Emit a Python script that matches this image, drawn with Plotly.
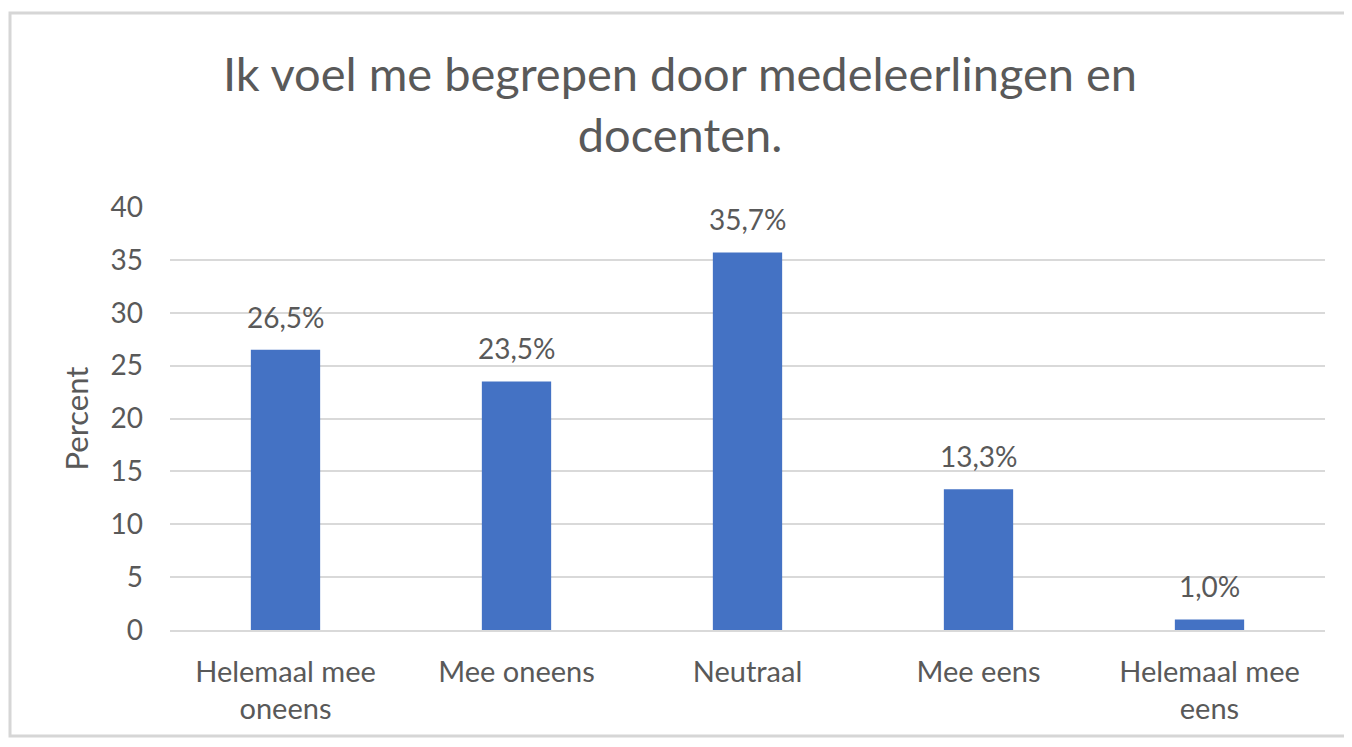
import plotly.graph_objects as go

categories = ["Helemaal mee<br>oneens", "Mee oneens", "Neutraal", "Mee eens", "Helemaal mee<br>eens"]
percent = [26.5, 23.5, 35.7, 13.3, 1.0]
y_ticks = [0, 5, 10, 15, 20, 25, 30, 35, 40]
title_text = "Ik voel me begrepen door medeleerlingen en<br>docenten."

OFF = 8  # browser body margin
W, H = 1352 - OFF, 747 - OFF
PL, PR, PT, PB = 170, 1325, 207, 630  # plot area in page pixels
L, T = PL - OFF, PT - OFF
R, B = (W + OFF) - PR, (H + OFF) - PB
FONT = "Lato"
TXT = "#595959"

fig = go.Figure()
fig.add_trace(go.Bar(
    x=categories, y=percent,
    marker=dict(color="#4472C4", line=dict(width=0)),
    showlegend=False, hoverinfo="skip",
))

for c, v in zip(categories, percent):
    fig.add_annotation(
        x=c, y=v, xref="x", yref="y",
        text=f"{v:.1f}%".replace(".", ","),
        showarrow=False, yanchor="middle", yshift=33,
        font=dict(family=FONT, size=28, color=TXT),
    )

pw, ph = PR - PL, PB - PT
def px_x(p):
    return (p - PL) / pw
def px_y(p):
    return (PB - p) / ph

xl, xr, yt, yb = px_x(10), px_x(1352), px_y(13), px_y(736)
fig.add_shape(type="path", xref="paper", yref="paper",
              path=f"M {xr},{yt} L {xl},{yt} L {xl},{yb} L {xr},{yb}",
              line=dict(color="#d6d6d6", width=3), layer="below")

fig.update_layout(
    width=W, height=H,
    margin=dict(l=L, r=R, t=T, b=B, autoexpand=False),
    paper_bgcolor="white", plot_bgcolor="white",
    bargap=0.7,
    title=dict(text=title_text, x=(680 - OFF) / W, xref="container", xanchor="center",
               y=1 - (91 - OFF) / H, yref="container", yanchor="middle",
               font=dict(family=FONT, size=47, color=TXT)),
    xaxis=dict(showgrid=False, showline=True, linecolor="#d9d9d9", linewidth=1.5,
               tickfont=dict(family=FONT, size=29, color=TXT),
               ticks="", ticklabelstandoff=15),
    yaxis=dict(range=[0, 40], tickvals=y_ticks, showgrid=True, gridcolor="#d9d9d9",
               gridwidth=1.5, zeroline=False, showline=False,
               tickfont=dict(family=FONT, size=28, color=TXT), ticklabelstandoff=26,
               title=dict(text="Percent", font=dict(family=FONT, size=31, color=TXT), standoff=12)),
)

fig.write_html("out.html", post_script="document.body.style.overflow='hidden';document.documentElement.style.overflow='hidden';")
